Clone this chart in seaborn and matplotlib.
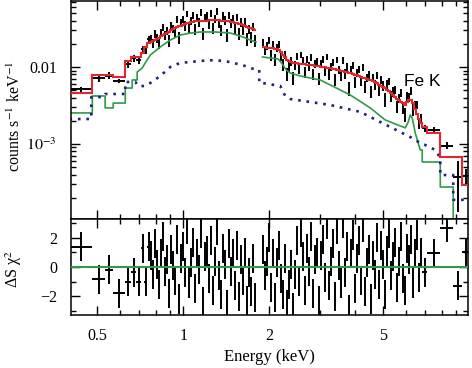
import numpy as np
import matplotlib
matplotlib.use('Agg')
import matplotlib.pyplot as plt
import matplotlib.ticker as mticker
import seaborn as sns

# ---- spectrum below the 1.8-1.9 keV gap ----
# bin edges (keV)
edges_a = [0.400, 0.481, 0.533, 0.569, 0.627, 0.658, 0.685, 0.713, 0.731, 0.748, 0.767,
           0.779, 0.792, 0.805, 0.818, 0.831, 0.844, 0.858, 0.872, 0.886, 0.901,
           0.915, 0.930, 0.945, 0.961, 0.976, 0.992, 1.008, 1.025, 1.041, 1.058,
           1.075, 1.093, 1.110, 1.128, 1.147, 1.165, 1.184, 1.203, 1.223, 1.243,
           1.263, 1.284, 1.304, 1.326, 1.347, 1.369, 1.391, 1.414, 1.437, 1.460,
           1.484, 1.508, 1.532, 1.557, 1.582, 1.608, 1.634, 1.661, 1.688, 1.715,
           1.743, 1.771, 1.800]
# total model per bin (1e-3 counts/s/keV)
model_a = [4.59, 7.87, 7.87, 7.41, 12.0, 13.5, 13.5, 15.2, 18.2, 20.5,
           20.9, 21.6, 22.4, 23.2, 24.1, 25.0, 25.9, 26.8, 27.8, 28.8,
           29.9, 31.0, 32.1, 32.9, 33.7, 34.5, 35.3, 36.2, 36.8, 37.5,
           38.1, 38.5, 39.0, 39.2, 39.5, 39.7, 39.8, 39.9, 40.1, 40.2,
           40.2, 40.2, 40.2, 40.2, 40.2, 40.1, 39.8, 39.6, 39.3, 39.1,
           38.8, 38.3, 37.8, 37.2, 36.5, 35.7, 34.9, 34.1, 33.3, 32.5,
           31.7, 31.0, 30.2]
# fractional error per bin
rel_a = [0.09, 0.10, 0.10, 0.06, 0.10, 0.10, 0.09, 0.10, 0.10, 0.10] + [0.13] * 53
# residuals (sigma)
resid_a = [1.38, -0.83, -0.2, -1.8, -1.0, -0.35, -1.0, 1.3, -1.0, 1.4,
           0.8, -0.5, 1.6, 0.2, -1.2, 0.9, 2.1, -0.3, 0.5, -1.8,
           1.2, 0.1, -0.9, 1.9, -2.2, 0.6, 1.4, -0.4, 2.6, -1.1,
           0.3, 1.7, -1.5, 0.9, -0.2, 2.3, -2.4, 0.7, 1.1, -0.8,
           1.8, -1.6, 0.4, 2.5, -0.6, -1.9, 1.3, 0.2, -2.6, 1.6,
           -0.3, 0.9, -1.3, 1.5, -2.0, 0.5, -0.9, 1.0, -2.3, -0.4,
           -1.7, 0.6, -2.1]

# ---- spectrum above the gap ----
edges_b = [1.889, 1.920, 1.951, 1.983, 2.015, 2.047, 2.081, 2.114, 2.149, 2.184,
           2.219, 2.255, 2.292, 2.329, 2.367, 2.405, 2.444, 2.484, 2.524, 2.565,
           2.607, 2.649, 2.692, 2.736, 2.780, 2.825, 2.871, 2.918, 2.965, 3.013,
           3.062, 3.112, 3.162, 3.214, 3.266, 3.319, 3.373, 3.428, 3.483, 3.540,
           3.597, 3.656, 3.715, 3.775, 3.837, 3.899, 3.962, 4.026, 4.092, 4.158,
           4.226, 4.294, 4.364, 4.435, 4.507, 4.580, 4.654, 4.730, 4.807, 4.885,
           4.964, 5.045, 5.126, 5.210, 5.294, 5.380, 5.467, 5.556, 5.646, 5.738,
           5.831, 5.926, 6.022, 6.120, 6.219, 6.320, 6.423, 6.527, 6.633, 6.740,
           6.850, 7.130, 7.920, 8.790, 9.450, 10.00]
model_b = [18.2, 18.0, 17.9, 17.7, 17.6, 17.4, 17.3, 17.2, 16.6, 15.7,
           14.4, 13.4, 12.3, 11.9, 11.5, 11.4, 11.3, 11.2, 11.1, 11.0,
           10.9, 10.8, 10.7, 10.7, 10.6, 10.5, 10.4, 10.3, 10.2, 10.1,
           10.0, 9.91, 9.82, 9.73, 9.62, 9.48, 9.33, 9.19, 9.06, 8.92,
           8.79, 8.66, 8.53, 8.41, 8.26, 8.09, 7.92, 7.76, 7.60, 7.44,
           7.28, 7.13, 6.98, 6.84, 6.68, 6.48, 6.29, 6.11, 5.91, 5.72,
           5.51, 5.34, 5.09, 4.85, 4.60, 4.33, 4.08, 3.89, 3.71, 3.53,
           3.37, 3.21, 3.48, 3.78, 3.78, 3.36, 2.85, 2.42, 2.11, 1.87,
           1.66, 1.39, 0.678, 0.678, 0.293]
rel_b = [0.13] * 60 + [0.15] * 20 + [0.10, 0.10, 0.15, 0.35, 0.30]
resid_b = [1.2, -0.6, 0.4, 2.0, -1.4, 0.9, -2.1, 0.3, 1.5, -0.8,
           -1.9, 0.6, -2.6, -1.2, 0.2, -2.8, -0.5, 1.8, -1.0, 2.4,
           0.7, -1.6, 1.3, -0.3, 2.1, -1.8, 0.5, 1.0, -2.3, 0.8,
           1.9, -0.7, 2.9, -1.3, 0.4, 1.6, -2.0, 2.6, 0.1, -1.1,
           3.0, -0.4, 1.4, -2.9, 0.9, 2.2, -1.5, 0.6, 1.8, -0.9,
           2.7, -1.7, 0.3, 1.2, -2.2, 0.8, -0.5, 2.0, -1.2, 1.5,
           0.2, -1.9, 1.1, 2.3, -0.6, 0.7, 1.7, -1.4, 0.4, 2.1,
           -0.8, -1.6, 1.3, 0.5, 1.9, -1.1, 0.9, 2.2, -0.7, 1.0,
           -0.35, 0.95, 2.7, -1.3, 1.0]

# ---- model components (keV, 1e-3 counts/s/keV) ----
green_e1 = [0.40, 0.481, 0.481, 0.533, 0.533, 0.569, 0.569, 0.627, 0.627, 0.663,
            0.663, 0.690, 0.690, 0.719, 0.736, 0.767, 0.831, 0.901, 0.976, 1.058,
            1.147, 1.294, 1.460, 1.582, 1.715, 1.800]
green_f1 = [2.53, 2.53, 4.20, 4.20, 2.94, 2.94, 3.40, 3.40, 5.33, 5.33,
            6.78, 6.78, 8.61, 9.70, 11.3, 14.3, 18.2, 22.4, 26.0, 27.6,
            28.5, 28.5, 27.6, 25.3, 22.4, 21.1]
green_e2 = [1.889, 2.149, 2.220, 2.292, 2.366, 2.566, 3.013, 3.266, 3.836, 4.507,
            5.086, 5.511, 5.973, 6.119, 6.218, 6.319, 6.474, 6.740, 6.850, 6.850,
            7.920, 7.920, 8.790, 8.790]
green_f2 = [13.5, 12.7, 10.9, 9.14, 8.36, 7.64, 6.78, 5.84, 4.33, 2.94,
            2.05, 1.82, 1.62, 1.93, 2.38, 2.18, 1.39, 0.836, 0.836, 0.583,
            0.583, 0.276, 0.276, 0.05]
blue_e = [0.40, 0.477, 0.477, 0.525, 0.533, 0.627, 0.627, 0.680, 0.696, 0.736,
          0.767, 0.831, 0.901, 0.976, 1.058, 1.147, 1.294, 1.460, 1.647, 1.800,
          1.844, 1.844, 1.889, 2.184, 2.273, 2.366, 2.780, 3.266, 4.157, 4.884,
          5.737, 6.218, 6.740, 7.019, 7.605, 7.920, 7.920, 8.790, 8.790, 10.2]
blue_f = [2.11, 2.11, 4.07, 4.07, 4.46, 4.46, 6.39, 6.39, 5.66, 5.66,
          6.20, 7.64, 10.0, 11.3, 11.6, 12.0, 12.3, 11.6, 10.3, 9.14,
          9.14, 6.20, 6.20, 5.66, 4.20, 3.84, 3.51, 3.21, 2.61, 1.93,
          1.43, 1.23, 1.03, 0.970, 0.836, 0.658, 0.395, 0.395, 0.188, 0.188]

RED = '#e3262b'
GREEN = '#2f9a48'
BLUE = '#1d237d'

sns.set_theme(style='ticks')
plt.rcParams['font.family'] = ['Liberation Serif', 'DejaVu Serif']
plt.rcParams['mathtext.fontset'] = 'stix'
plt.rcParams['axes.edgecolor'] = 'black'
plt.rcParams['text.color'] = 'black'
plt.rcParams['axes.labelcolor'] = 'black'
plt.rcParams['xtick.color'] = 'black'
plt.rcParams['ytick.color'] = 'black'

fig = plt.figure(figsize=(4.72, 3.68), dpi=100)
ax1 = fig.add_axes([0.1504, 0.4049, 0.8411, 0.5924])
ax2 = fig.add_axes([0.1504, 0.1440, 0.8411, 0.2609], sharex=ax1)
ax1.set_xscale('log')
ax1.set_yscale('log')

for edges, model, rel, resid in [(edges_a, model_a, rel_a, resid_a),
                                 (edges_b, model_b, rel_b, resid_b)]:
    e = np.array(edges)
    lo, hi = e[:-1], e[1:]
    c = np.sqrt(lo * hi)
    m = np.array(model) * 1e-3
    r = np.array(rel)
    d = np.array(resid)
    flux = m * (1 + r * d)
    ax1.errorbar(c, flux, xerr=[c - lo, hi - c], yerr=m * r, fmt='none',
                 ecolor='black', elinewidth=1.4, capsize=0, zorder=2)
    ax1.stairs(m, e, baseline=None, color=RED, lw=1.5, zorder=3)
    ax2.errorbar(c, d, xerr=[c - lo, hi - c], yerr=1.0, fmt='none',
                 ecolor='black', elinewidth=1.4, capsize=0, zorder=2)

for ge, gf in [(green_e1, green_f1), (green_e2, green_f2)]:
    sns.lineplot(x=ge, y=np.array(gf) * 1e-3, ax=ax1, color=GREEN, lw=1.2,
                 sort=False, estimator=None, zorder=2.5)
sns.lineplot(x=blue_e, y=np.array(blue_f) * 1e-3, ax=ax1, color=BLUE, lw=1.9,
             ls=(0, (1, 2.2)), sort=False, estimator=None, zorder=2.5)

ax2.axhline(0, color=GREEN, lw=1.5, zorder=3)

ax1.set_xlim(0.405, 9.9)
ax1.set_ylim(1.06e-4, 0.072)
ax2.set_ylim(-3.3, 3.3)

ax2.xaxis.set_major_locator(mticker.FixedLocator([0.5, 1, 2, 5]))
ax2.xaxis.set_major_formatter(mticker.FixedFormatter(['0.5', '1', '2', '5']))
ax2.xaxis.set_minor_locator(mticker.FixedLocator([0.4, 0.6, 0.7, 0.8, 0.9, 3, 4, 6, 7, 8, 9]))
ax2.xaxis.set_minor_formatter(mticker.NullFormatter())
ax1.tick_params(axis='x', which='both', labelbottom=False)

ax1.yaxis.set_major_locator(mticker.FixedLocator([1e-3, 1e-2]))
ax1.yaxis.set_major_formatter(mticker.FixedFormatter(['$10^{-3}$', '0.01']))
ax1.yaxis.set_minor_locator(mticker.LogLocator(base=10, subs=np.arange(2, 10)))
ax1.yaxis.set_minor_formatter(mticker.NullFormatter())

ax2.yaxis.set_major_locator(mticker.FixedLocator([-2, 0, 2]))
ax2.yaxis.set_minor_locator(mticker.FixedLocator([-3, -1, 1, 3]))

for ax in (ax1, ax2):
    ax.tick_params(which='both', direction='in', top=True, right=True,
                   width=1.0, labelsize=11.5)
    ax.tick_params(which='major', length=6.5)
    ax.tick_params(which='minor', length=3.8)
    ax.tick_params(axis='y', which='major', pad=10)
    ax.tick_params(axis='x', which='major', pad=9)
    for s in ax.spines.values():
        s.set_linewidth(1.1)

ax1.set_ylabel('counts s$^{-1}$ keV$^{-1}$', fontsize=11.5)
ax2.set_ylabel('ΔS χ$^{2}$', fontsize=11.5)
ax2.set_xlabel('Energy (keV)', fontsize=12)
ax1.yaxis.set_label_coords(-0.118, 0.47)
ax2.yaxis.set_label_coords(-0.118, 0.48)

ax1.text(0.884, 0.633, 'Fe K', transform=ax1.transAxes, fontsize=12.5,
         family=['Liberation Sans', 'DejaVu Sans'], ha='center', va='center')

fig.savefig('out.png', dpi=100)
